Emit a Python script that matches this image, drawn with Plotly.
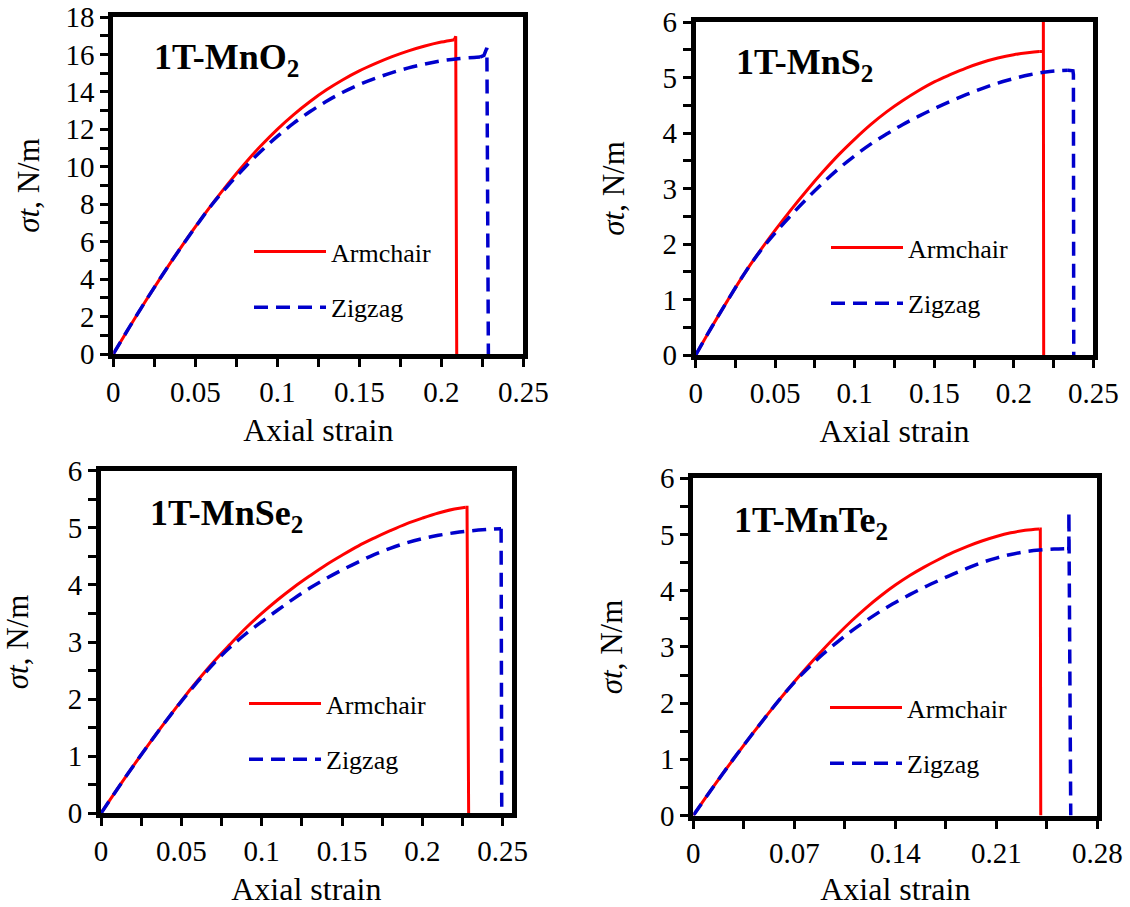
import plotly.graph_objects as go

W, H = 1130, 907
FONT = "Liberation Serif"

# ---------------- data ----------------
labels = ["1T-MnO<sub>2</sub>", "1T-MnS<sub>2</sub>", "1T-MnSe<sub>2</sub>", "1T-MnTe<sub>2</sub>"]
series_names = ["Armchair", "Zigzag"]

grid = [0, .01, .02, .03, .04, .05, .06, .07, .08, .09, .10, .11, .12, .13, .14,
        .15, .16, .17, .18, .19, .20]

# 1T-MnO2 : smooth part + failure part
mno2_ac_x = grid + [.208]
mno2_ac_y = [0, 1.46, 2.87, 4.23, 5.54, 6.79, 7.98, 9.10, 10.15, 11.12, 12.0, 12.79, 13.49,
             14.11, 14.65, 15.12, 15.52, 15.88, 16.19, 16.45, 16.66, 16.79]
mno2_ac_fail_x = [.208, .2088, .2094]
mno2_ac_fail_y = [16.79, 16.97, 0]
mno2_zz_x = grid + [.21, .22, .2236]
mno2_zz_y = [0, 1.46, 2.87, 4.23, 5.53, 6.77, 7.96, 9.0, 9.95, 10.83, 11.62, 12.33, 12.95,
             13.5, 13.98, 14.39, 14.73, 15.03, 15.28, 15.49, 15.66, 15.77, 15.84, 15.86]
mno2_zz_fail_x = [.2236, .226, .2278, .2287]
mno2_zz_fail_y = [15.86, 15.95, 16.35, 0]

# 1T-MnS2
mns2_ac_x = grid + [.21, .216]
mns2_ac_y = [0, .5, .98, 1.44, 1.86, 2.25, 2.62, 2.97, 3.3, 3.61, 3.89, 4.15, 4.38,
             4.58, 4.76, 4.92, 5.05, 5.17, 5.27, 5.35, 5.41, 5.45, 5.47]
mns2_ac_fail_x = [.216, .2186, .2186, .2188]
mns2_ac_fail_y = [5.47, 5.47, 6.0, 0]
mns2_zz_x = grid + [.21, .22, .23, .234]
mns2_zz_y = [0, .5, .98, 1.44, 1.85, 2.2, 2.52, 2.82, 3.1, 3.36, 3.59, 3.8, 3.98,
             4.15, 4.3, 4.44, 4.57, 4.69, 4.8, 4.9, 4.98, 5.05, 5.1, 5.125, 5.13]
mns2_zz_fail_x = [.234, .2372, .2375, .2377]
mns2_zz_fail_y = [5.13, 5.12, 5.05, 0]

# 1T-MnSe2
mnse2_ac_x = grid + [.21, .22, .227]
mnse2_ac_y = [0, .418, .826, 1.22, 1.6, 1.97, 2.32, 2.65, 2.95, 3.24, 3.5, 3.74, 3.96,
              4.16, 4.35, 4.52, 4.68, 4.82, 4.95, 5.07, 5.17, 5.26, 5.33, 5.36]
mnse2_ac_fail_x = [.227, .2278, .2288]
mnse2_ac_fail_y = [5.36, 5.36, 0]
mnse2_zz_x = grid + [.21, .22, .23, .24, .249]
mnse2_zz_y = [0, .418, .826, 1.22, 1.6, 1.96, 2.30, 2.62, 2.9, 3.14, 3.355, 3.56, 3.76,
              3.945, 4.11, 4.26, 4.40, 4.53, 4.64, 4.735, 4.81, 4.868, 4.913, 4.947, 4.97, 4.985]
mnse2_zz_fail_x = [.249, .2494]
mnse2_zz_fail_y = [4.985, 0]

# 1T-MnTe2
mnte2_ac_x = grid + [.21, .22, .23, .24]
mnte2_ac_y = [0, .37, .73, 1.08, 1.42, 1.75, 2.07, 2.38, 2.675, 2.955, 3.22, 3.47, 3.70,
              3.91, 4.10, 4.27, 4.42, 4.555, 4.68, 4.79, 4.885, 4.965, 5.03, 5.075, 5.1]
mnte2_ac_fail_x = [.24, .2405, .2408]
mnte2_ac_fail_y = [5.1, 5.1, 0]
mnte2_zz_x = grid + [.21, .22, .23, .24, .25, .259]
mnte2_zz_y = [0, .37, .73, 1.08, 1.42, 1.75, 2.07, 2.37, 2.635, 2.875, 3.09, 3.29, 3.47,
              3.64, 3.79, 3.93, 4.06, 4.18, 4.295, 4.40, 4.50, 4.58, 4.645, 4.695, 4.725,
              4.742, 4.75]
mnte2_zz_fail_x = [.259, .2603, .2603, .2616]
mnte2_zz_fail_y = [4.75, 4.75, 5.4, 0]

# axis ticks
x_ticks_a = [0, 0.05, 0.1, 0.15, 0.2, 0.25]
x_ticks_b = [0, 0.07, 0.14, 0.21, 0.28]
y_ticks_a = [0, 2, 4, 6, 8, 10, 12, 14, 16, 18]
y_ticks_b = [0, 1, 2, 3, 4, 5, 6]

# ---------------- layout geometry (pixels) ----------------
panels = [
    dict(ac=(mno2_ac_x, mno2_ac_y), acf=(mno2_ac_fail_x, mno2_ac_fail_y),
         zz=(mno2_zz_x, mno2_zz_y), zzf=(mno2_zz_fail_x, mno2_zz_fail_y),
         px=(113.3, 523.3), py=(17, 354),
         xr=[0, 0.25], yr=[0, 18], xt=x_ticks_a, xm=0.025, yt=y_ticks_a, ym=1,
         lab=(152, 59), leg=(249, 228), ystand=18),
    dict(ac=(mns2_ac_x, mns2_ac_y), acf=(mns2_ac_fail_x, mns2_ac_fail_y),
         zz=(mns2_zz_x, mns2_zz_y), zzf=(mns2_zz_fail_x, mns2_zz_fail_y),
         px=(695.7, 1093.3), py=(22, 355),
         xr=[0, 0.25], yr=[0, 6], xt=x_ticks_a, xm=0.025, yt=y_ticks_b, ym=0.5,
         lab=(734, 65), leg=(826, 224), ystand=30),
    dict(ac=(mnse2_ac_x, mnse2_ac_y), acf=(mnse2_ac_fail_x, mnse2_ac_fail_y),
         zz=(mnse2_zz_x, mnse2_zz_y), zzf=(mnse2_zz_fail_x, mnse2_zz_fail_y),
         px=(101, 511.7), py=(470.7, 813.3),
         xr=[0, 0.2556], yr=[0, 6], xt=x_ticks_a, xm=0.025, yt=y_ticks_b, ym=0.5,
         lab=(148, 515), leg=(244, 680), ystand=31),
    dict(ac=(mnte2_ac_x, mnte2_ac_y), acf=(mnte2_ac_fail_x, mnte2_ac_fail_y),
         zz=(mnte2_zz_x, mnte2_zz_y), zzf=(mnte2_zz_fail_x, mnte2_zz_fail_y),
         px=(693.3, 1097.3), py=(478.3, 815.5),
         xr=[0, 0.28], yr=[0, 6], xt=x_ticks_b, xm=0.035, yt=y_ticks_b, ym=0.5,
         lab=(732, 522), leg=(825, 684), ystand=30),
]

RED = "#FF0000"
BLUE = "#0000CC"
DASH = "14px,8px"

fig = go.Figure()
layout = dict(width=W, height=H, autosize=False, margin=dict(l=0, r=0, t=0, b=0, pad=0),
              paper_bgcolor="white", plot_bgcolor="white", showlegend=True,
              font=dict(family=FONT, color="black"))
annotations = []

for i, p in enumerate(panels):
    n = "" if i == 0 else str(i + 1)
    leg = "legend" if i == 0 else f"legend{i + 1}"
    ax = dict(xaxis="x" + n, yaxis="y" + n, legend=leg)
    fig.add_trace(go.Scatter(x=p["ac"][0], y=p["ac"][1], mode="lines", name=series_names[0],
                             line=dict(color=RED, width=3, shape="spline", smoothing=1),
                             legendgroup=f"a{i}", **ax))
    fig.add_trace(go.Scatter(x=p["acf"][0], y=p["acf"][1], mode="lines", name=series_names[0],
                             line=dict(color=RED, width=3), showlegend=False,
                             legendgroup=f"a{i}", **ax))
    fig.add_trace(go.Scatter(x=p["zz"][0], y=p["zz"][1], mode="lines", name=series_names[1],
                             line=dict(color=BLUE, width=3.5, dash=DASH, shape="spline", smoothing=1),
                             legendgroup=f"z{i}", **ax))
    fig.add_trace(go.Scatter(x=p["zzf"][0], y=p["zzf"][1], mode="lines", name=series_names[1],
                             line=dict(color=BLUE, width=3.5, dash=DASH), showlegend=False,
                             legendgroup=f"z{i}", **ax))
    x0, x1 = p["px"]
    yt, yb = p["py"]
    common = dict(showline=True, linewidth=5, linecolor="black", mirror=True,
                  ticks="outside", ticklen=8, tickwidth=3, tickcolor="black",
                  showgrid=False, zeroline=False, fixedrange=True, automargin=False,
                  tickfont=dict(family=FONT, size=29, color="black"))
    layout["xaxis" + n] = dict(common, domain=[x0 / W, x1 / W], range=p["xr"], anchor="y" + n,
                               tickmode="array", tickvals=p["xt"],
                               minor=dict(dtick=p["xm"], tick0=0, ticks="outside", ticklen=8,
                                          tickwidth=3, tickcolor="black"),
                               title=dict(text="Axial strain", standoff=13,
                                          font=dict(family=FONT, size=32, color="black")))
    layout["yaxis" + n] = dict(common, domain=[1 - yb / H, 1 - yt / H], range=p["yr"], anchor="x" + n,
                               tickmode="array", tickvals=p["yt"],
                               minor=dict(dtick=p["ym"], tick0=0, ticks="outside", ticklen=8,
                                          tickwidth=3, tickcolor="black"),
                               title=dict(text="<i>σt</i>, N/m", standoff=p["ystand"],
                                          font=dict(family=FONT, size=31, color="black")))
    lx, ly = p["leg"]
    layout[leg] = dict(x=lx / W, y=1 - ly / H, xanchor="left", yanchor="top",
                       bgcolor="rgba(0,0,0,0)", borderwidth=0, itemwidth=72,
                       traceorder="grouped", tracegroupgap=19,
                       font=dict(family=FONT, size=26, color="black"))
    tx, ty = p["lab"]
    annotations.append(dict(text="<b>" + labels[i] + "</b>", x=tx / W, y=1 - ty / H,
                            xref="paper", yref="paper", xanchor="left", yanchor="middle",
                            showarrow=False, font=dict(family=FONT, size=36, color="black")))

layout["annotations"] = annotations
fig.update_layout(**layout)
fig.write_html("out.html", config=dict(displayModeBar=False, responsive=False),
               post_script="document.body.style.margin='0';document.body.style.overflow='hidden';")
